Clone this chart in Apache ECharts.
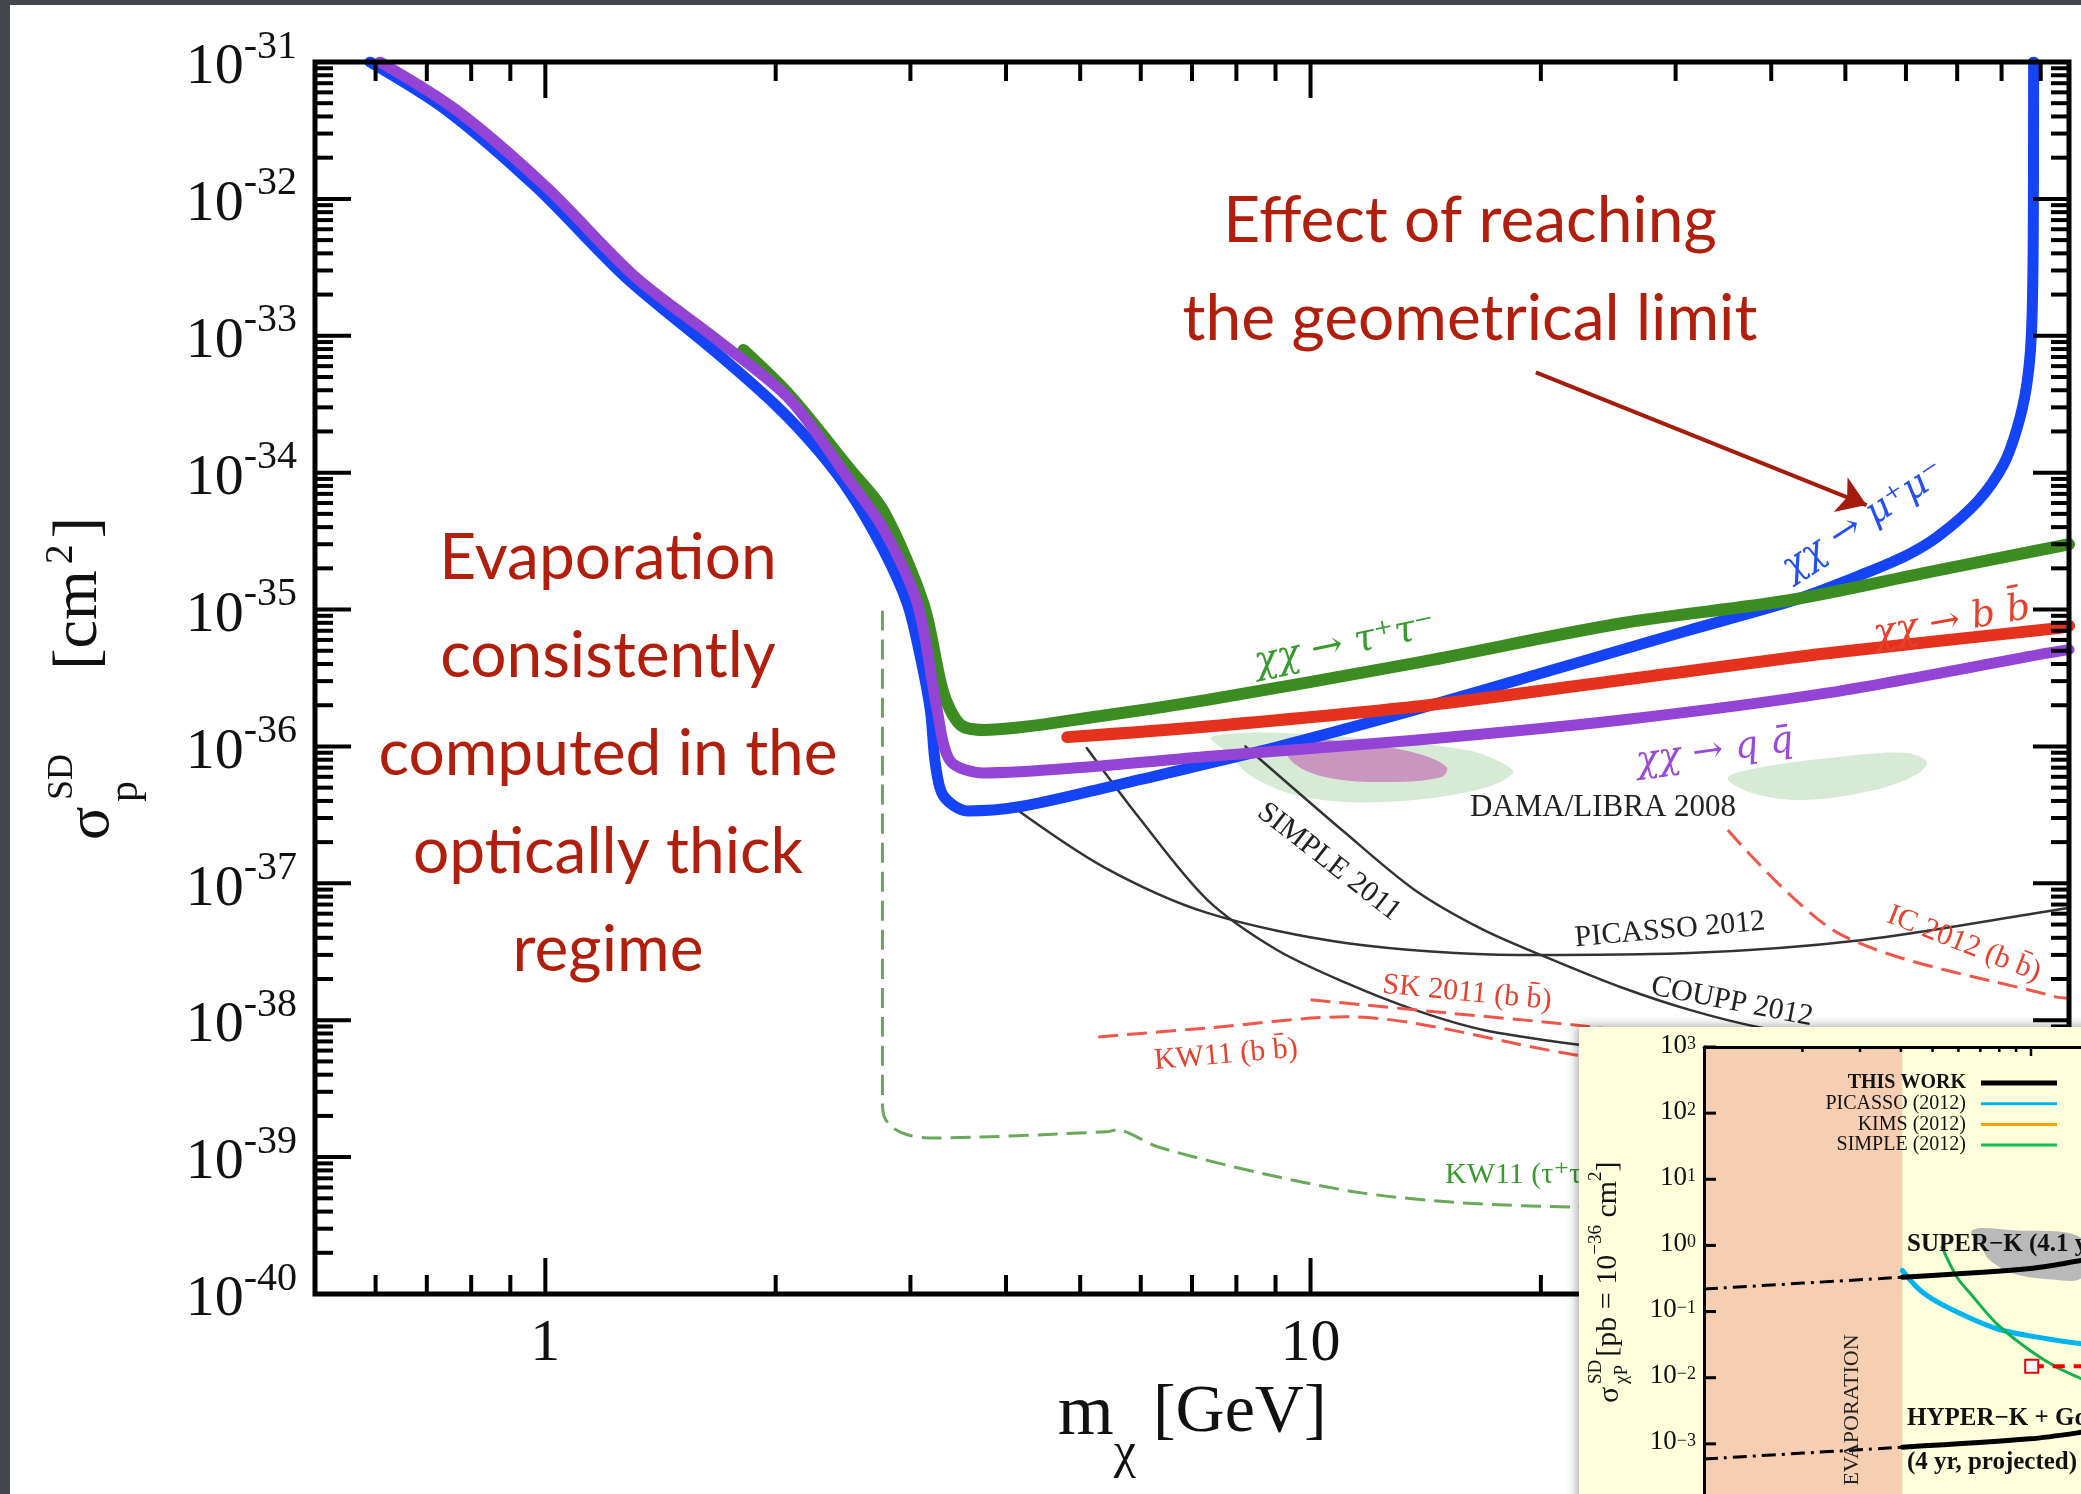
<!DOCTYPE html>
<html>
<head>
<meta charset="utf-8">
<script src="https://cdn.jsdelivr.net/npm/echarts@6/dist/echarts.min.js"></script>
<style>
  html, body { margin: 0; padding: 0; background: #45474f; }
  #main { width: 2081px; height: 1494px; }
</style>
</head>
<body>
<div id="main"></div>
<script>
// ---- main panel: m_chi [GeV] vs sigma_p^SD [cm^2] ----
var mumuCurve = [[0.59,1.0e-31],[0.742,4.46e-32],[0.973,1.22e-32],[1.272,2.69e-33],[1.679,7.4e-34],[2.011,3.02e-34],[2.268,1.47e-34],[2.504,7.11e-35],[2.766,2.72e-35],[2.973,1.10e-35],[3.091,4.51e-36],[3.186,1.82e-36],[3.234,7.45e-37],[3.313,4.35e-37],[3.561,3.38e-37],[4.14,3.61e-37],[5.32,4.9e-37],[5.96,5.69e-37],[9.03,9.9e-37],[13.68,1.85e-36],[20.7,3.62e-36],[31.3,7.1e-36],[42.8,1.17e-35],[52.8,1.82e-35],[60.3,2.51e-35],[66.2,3.45e-35],[74.5,6.2e-35],[80.5,1.15e-34],[83.8,2.1e-34],[86.2,4.2e-34],[87.5,1.0e-33],[88.0,5.0e-33],[88.1,1.0e-31]];
var tautauCurve = [[1.815,7.87e-34],[2.09,3.63e-34],[2.504,1.05e-34],[2.766,5.25e-35],[3.12,1.10e-35],[3.313,2.46e-36],[3.487,1.44e-36],[3.737,1.32e-36],[5.32,1.67e-36],[7.33,2.19e-36],[13.68,4.06e-36],[25.5,7.94e-36],[42.2,1.17e-35],[64.0,1.87e-35],[98,3.0e-35]];
var bbCurve = [[4.81,1.17e-36],[7.33,1.40e-36],[13.68,1.95e-36],[25.5,3.06e-36],[47.4,4.80e-36],[94.2,7.29e-36],[98,7.6e-36]];
var qqCurve = [[0.608,1.0e-31],[0.765,4.46e-32],[1.003,1.22e-32],[1.311,2.69e-33],[1.679,9.3e-34],[2.09,3.40e-34],[2.504,8.6e-35],[2.766,3.88e-35],[3.064,1.10e-35],[3.253,1.82e-36],[3.383,7.83e-37],[3.737,6.40e-37],[5.32,7.21e-37],[7.33,8.43e-37],[13.68,1.11e-36],[25.5,1.56e-36],[47.4,2.46e-36],[92.2,4.82e-36],[98,5.1e-36]];

var picasso2012 = [[4.10,3.56e-37],[5.36,1.32e-37],[7.33,6.08e-38],[11.11,3.67e-38],[18.65,3.00e-38],[31.3,3.10e-38],[52.7,3.86e-38],[94.2,6.39e-38],[98,6.6e-38]];
var simple2011 = [[5.10,9.75e-37],[5.96,3.05e-37],[7.33,7.57e-38],[9.03,3.27e-38],[11.11,1.88e-38],[13.68,1.19e-38],[16.83,8.49e-39],[22.5,6.6e-39],[30,5.5e-39]];
var coupp2012 = [[8.22,1.0e-36],[11.11,2.33e-37],[13.68,8.95e-38],[16.83,4.57e-38],[20.72,2.76e-38],[25.4,1.75e-38],[31.3,1.19e-38],[38.5,8.9e-39],[50,7.0e-39]];
var kw11bb = [[5.28,7.55e-39],[7.36,8.79e-39],[11.14,1.06e-38],[22.2,5.58e-39],[30,4.6e-39]];
var sk2011 = [[10.0,1.41e-38],[15.1,1.13e-38],[22.0,9.25e-39],[30,7.5e-39]];
var ic2012 = [[35.1,2.45e-37],[49.4,4.2e-38],[94.2,1.48e-38],[98,1.45e-38]];
var kw11tau = [[2.758,9.8e-36],[2.758,2.6e-39],[2.77,2.0e-39],[2.84,1.65e-39],[2.98,1.45e-39],[3.168,1.38e-39],[5.41,1.53e-39],[5.58,1.58e-39],[6.31,1.19e-39],[8.58,7.67e-40],[11.66,5.48e-40],[15.85,4.63e-40],[22.27,4.32e-40],[30,4.3e-40]];

var damaGreenA = [[7.42,1.17e-36],[9.08,1.26e-36],[12.35,1.11e-36],[16.0,9.4e-37],[17.8,7.58e-37],[18.4,6.4e-37],[16.5,4.8e-37],[12.5,3.93e-37],[9.79,4.28e-37],[8.40,5.98e-37],[7.79,8.97e-37]];
var damaPurple = [[9.22,1.11e-36],[11.42,1.06e-36],[13.72,8.97e-37],[15.06,7.08e-37],[14.84,5.98e-37],[12.72,5.5e-37],[10.59,5.88e-37],[9.50,7.58e-37]];
var damaGreenB = [[35.1,5.89e-37],[38.98,7.08e-37],[49.1,8.38e-37],[59.95,8.97e-37],[63.9,7.7e-37],[61.8,6.2e-37],[54.6,4.8e-37],[44.1,4.06e-37],[37.8,4.57e-37]];

var arrowFrom = [19.7, 5.4e-34];
var arrowTo = [53.3, 5.8e-35];

var xMajor = [1, 10];
var xMinor = [0.6, 0.7, 0.8, 0.9, 2, 3, 4, 5, 6, 7, 8, 9, 20, 30, 40, 50, 60, 70, 80, 90];
var yDecades = [-40, -39, -38, -37, -36, -35, -34, -33, -32, -31];
var mantissas = [2, 3, 4, 5, 6, 7, 8, 9];

// ---- inset panel ----
var evapRange = [1, 4.04];
var superKBand = [[6.60,1.69],[8.81,1.69],[14.3,1.28],[14.3,0.328],[11.67,0.306],[8.81,0.377],[7.50,0.593],[7.14,0.84]];
var thisWork = [[4.04,0.331],[9.93,0.449],[14.3,0.593],[16.35,0.656]];
var thisWorkLow = [[1,0.219],[4.04,0.331]];
var hyperK = [[4.04,8.9e-4],[9.93,1.19e-3],[14.3,1.5e-3],[16.35,1.7e-3]];
var hyperKLow = [[1,5.9e-4],[4.04,8.9e-4]];
var picassoInset = [[4.04,0.419],[4.59,0.208],[5.53,0.117],[7.86,0.055],[11.17,0.0389],[14.3,0.0326],[16.35,0.031]];
var simpleInset = [[5.34,0.943],[5.94,0.331],[6.67,0.165],[7.86,0.0653],[9.93,0.0258],[11.98,0.0144],[14.3,0.0096],[16.35,0.0072]];
var kimsInset = [[10.05,0.0149],[16.35,0.0149]];
var insetXMajor = [10];
var insetXMinor = [2, 3, 4, 5, 6, 7, 8, 9, 20, 30, 40, 50, 60, 70, 80, 90];
var insetYDecades = [-4, -3, -2, -1, 0, 1, 2, 3];
var legendNames = ['THIS WORK', 'PICASSO (2012)', 'KIMS (2012)', 'SIMPLE (2012)'];
var legendColors = ['#000000', '#00b4f0', '#ffa200', '#12c052'];

var serif = '"Liberation Serif", "DejaVu Serif", serif';
var greek = '"DejaVu Serif", "Liberation Serif", serif';
var hand = 'Lato, "Open Sans", sans-serif';
var refX = [0.5, 1], refY = [1e-40, 1e-4];

var yMinor = [];
yDecades.slice(0, -1).forEach(function (e) {
    mantissas.forEach(function (m) { yMinor.push(m * Math.pow(10, e)); });
});
var yMajor = yDecades.map(function (e) { return Math.pow(10, e); });
var insetYMajor = insetYDecades.map(function (e) { return Math.pow(10, e); });

function curve(data, color, width, dash, idx, z) {
    return {
        type: 'line', data: data, xAxisIndex: idx || 0, yAxisIndex: idx || 0, z: z || 2,
        symbol: 'none', showSymbol: false, smooth: 0.3, silent: true,
        lineStyle: { color: color, width: width, type: dash || 'solid', cap: dash ? 'butt' : 'round', join: 'round' }
    };
}

// tick marks drawn through the axis scale
function ticks(vals, dir, len, lw, sides, idx, z) {
    return {
        type: 'custom', xAxisIndex: idx, yAxisIndex: idx, z: z, silent: true, clip: false,
        data: vals.map(function (v) { return dir === 'x' ? [v, refY[idx]] : [refX[idx], v]; }),
        renderItem: function (params, api) {
            var cs = params.coordSys;
            var p = api.coord([api.value(0), api.value(1)]);
            var kids = sides.map(function (s) {
                var sh;
                if (s === 'top') sh = { x1: p[0], y1: cs.y, x2: p[0], y2: cs.y + len };
                if (s === 'bottom') sh = { x1: p[0], y1: cs.y + cs.height, x2: p[0], y2: cs.y + cs.height - len };
                if (s === 'left') sh = { x1: cs.x, y1: p[1], x2: cs.x + len, y2: p[1] };
                if (s === 'right') sh = { x1: cs.x + cs.width, y1: p[1], x2: cs.x + cs.width - len, y2: p[1] };
                return { type: 'line', shape: sh, style: { stroke: '#000', lineWidth: lw } };
            });
            return { type: 'group', children: kids };
        }
    };
}

// power-of-ten labels placed through the y scale
function decadeLabels(decades, idx, gap, rich, minus, z) {
    return {
        type: 'custom', xAxisIndex: idx, yAxisIndex: idx, z: z, silent: true, clip: false,
        data: decades.map(function (e) { return [refX[idx], Math.pow(10, e)]; }),
        renderItem: function (params, api) {
            var p = api.coord([api.value(0), api.value(1)]);
            var e = decades[params.dataIndex];
            var s = e < 0 ? minus + (-e) : String(e);
            return {
                type: 'text', x: p[0] - gap, y: p[1],
                style: { text: '{sp| }{b|10}{s|' + s + '}', rich: rich, align: 'right', verticalAlign: 'middle',
                         textAlign: 'right', textVerticalAlign: 'middle', fill: '#111' }
            };
        }
    };
}

function polySeries(polys, colors, idx, z) {
    return {
        type: 'custom', xAxisIndex: idx, yAxisIndex: idx, z: z, silent: true,
        data: polys.map(function (p) { return p[0]; }),
        renderItem: function (params, api) {
            var pts = polys[params.dataIndex].map(function (p) { return api.coord(p); });
            return { type: 'polygon', shape: { points: pts, smooth: 0.35 }, style: { fill: colors[params.dataIndex] } };
        }
    };
}

function txt(x, y, text, font, fill, align, vAlign, rot, z, extra) {
    var st = { text: text, font: font, fill: fill, align: align, verticalAlign: vAlign, textAlign: align, textVerticalAlign: vAlign };
    if (extra) for (var k in extra) st[k] = extra[k];
    return { type: 'text', x: x, y: y, rotation: rot || 0, z: z || 10, silent: true, style: st };
}

var deg = Math.PI / 180;
var blueL = '#2450f0', greenL = '#3a9a30', redL = '#e8402c', purpleL = '#9a4ad8', darkL = '#222';

var graphics = [
    { type: 'rect', z: 100, shape: { x: 0, y: 0, width: 2081, height: 5 }, style: { fill: '#45474f' } },
    { type: 'rect', z: 100, shape: { x: 0, y: 0, width: 10, height: 1494 }, style: { fill: '#45474f' } },
    txt(608, 509, 'Evaporation\nconsistently\ncomputed in the\noptically thick\nregime', '64px ' + hand, '#b21e0c', 'center', 'top', 0, 10, { lineHeight: 98 }),
    txt(1470, 172, 'Effect of reaching\nthe geometrical limit', '64px ' + hand, '#b21e0c', 'center', 'top', 0, 10, { lineHeight: 98 }),
    txt(1864, 521, 'χχ → μ⁺μ⁻', 'italic 37px ' + greek, blueL, 'center', 'middle', 33 * deg),
    txt(1345, 645, 'χχ → τ⁺τ⁻', 'italic 38px ' + greek, greenL, 'center', 'middle', 12 * deg),
    txt(1952, 622, 'χχ → b b̄', 'italic 37px ' + greek, redL, 'center', 'middle', 10 * deg),
    txt(1715, 752, 'χχ → q q̄', 'italic 37px ' + greek, purpleL, 'center', 'middle', 8 * deg),
    txt(1603, 808, 'DAMA/LIBRA 2008', '31px ' + serif, darkL, 'center', 'middle', 0),
    txt(1329, 862, 'SIMPLE 2011', '30px ' + serif, darkL, 'center', 'middle', -38 * deg),
    txt(1670, 930, 'PICASSO 2012', '30px ' + serif, darkL, 'center', 'middle', 5 * deg),
    txt(1732, 1002, 'COUPP 2012', '30px ' + serif, darkL, 'center', 'middle', -11 * deg),
    txt(1964, 944, 'IC 2012 (b b̄)', '30px ' + serif, redL, 'center', 'middle', -21.6 * deg),
    txt(1467, 993, 'SK 2011 (b b̄)', '30px ' + serif, redL, 'center', 'middle', -5.5 * deg),
    txt(1226, 1055, 'KW11 (b b̄)', '30px ' + serif, redL, 'center', 'middle', 5 * deg),
    txt(1445, 1175, 'KW11 (τ⁺τ⁻)', '30px ' + serif, greenL, 'left', 'middle', 0),
    // y axis title of the main panel
    {
        type: 'group', x: 110, y: 840, rotation: Math.PI / 2, z: 10, silent: true,
        children: [
            txt(0, -18, 'σ', '62px ' + serif, '#111', 'left', 'middle'),
            txt(40, -47, 'SD', '36px ' + serif, '#111', 'left', 'middle'),
            txt(38, 16, 'p', '42px ' + serif, '#111', 'left', 'middle'),
            txt(170, -34, '{sp| }{t|[cm}{s|2}{t|]}', '64px ' + serif, '#111', 'left', 'middle', 0, 10, {
                rich: {
                    sp: { fontSize: 1, lineHeight: 70 },
                    t: { fontSize: 64, fontFamily: serif, lineHeight: 40, verticalAlign: 'bottom', fill: '#111' },
                    s: { fontSize: 40, fontFamily: serif, lineHeight: 30, verticalAlign: 'top', fill: '#111', padding: [0, 6, 0, 6] }
                }
            })
        ]
    },
    // inset card
    { type: 'rect', z: 50, silent: true, shape: { x: 1579, y: 1027, width: 520, height: 480 },
      style: { fill: '#ffffdc', shadowBlur: 10, shadowColor: 'rgba(0,0,0,0.35)', shadowOffsetX: -2, shadowOffsetY: -1 } },
    txt(1907, 1245, 'SUPER−K (4.1 yr)', 'bold 25px ' + serif, '#111', 'left', 'middle', 0, 70),
    txt(1907, 1419, 'HYPER−K + Gd', 'bold 25px ' + serif, '#111', 'left', 'middle', 0, 70),
    txt(1907, 1463, '(4 yr, projected)', 'bold 25px ' + serif, '#111', 'left', 'middle', 0, 70),
    txt(1852, 1410, 'EVAPORATION', '22px ' + serif, '#222', 'center', 'middle', Math.PI / 2, 70),
    {
        type: 'group', x: 1617, y: 1403, rotation: Math.PI / 2, z: 70, silent: true,
        children: [
            txt(0, -7, 'σ', '30px ' + serif, '#111', 'left', 'middle', 0, 70),
            txt(19, -21, 'SD', '19px ' + serif, '#111', 'left', 'middle', 0, 70),
            txt(19, 5, 'χP', '19px ' + serif, '#111', 'left', 'middle', 0, 70),
            txt(46, -12, '{sp| }{t|[pb = 10}{s|−36}{t| cm}{s|2}{t|]}', '30px ' + serif, '#111', 'left', 'middle', 0, 70, {
                rich: {
                    sp: { fontSize: 1, lineHeight: 36 },
                    t: { fontSize: 30, fontFamily: serif, lineHeight: 30, verticalAlign: 'bottom', fill: '#111' },
                    s: { fontSize: 19, fontFamily: serif, lineHeight: 14, verticalAlign: 'top', fill: '#111' }
                }
            })
        ]
    }
];

legendNames.forEach(function (name, i) {
    var y = 1083 + i * 20.7;
    graphics.push(txt(1966, y, name, (i === 0 ? 'bold ' : '') + '20px ' + serif, '#111', 'right', 'middle', 0, 70));
    graphics.push({ type: 'line', z: 70, silent: true, shape: { x1: 1981, y1: y, x2: 2057, y2: y },
        style: { stroke: legendColors[i], lineWidth: i === 0 ? 5 : 3 } });
});

var mainRich = {
    sp: { fontSize: 1, lineHeight: 70 },
    b: { fontSize: 58, fontFamily: serif, fill: '#111', lineHeight: 40, verticalAlign: 'bottom' },
    s: { fontSize: 40, fontFamily: serif, fill: '#111', lineHeight: 30, verticalAlign: 'top' }
};
var insetRich = {
    sp: { fontSize: 1, lineHeight: 24 },
    b: { fontSize: 27, fontFamily: serif, fill: '#111', lineHeight: 24, verticalAlign: 'bottom' },
    s: { fontSize: 18, fontFamily: serif, fill: '#111', lineHeight: 8, verticalAlign: 'top' }
};

var mainSeries = [
    polySeries([damaGreenA, damaGreenB, damaPurple], ['#d6ead6', '#d6ead6', '#c996c0'], 0, 2),
    curve(picasso2012, '#333', 2.5),
    curve(simple2011, '#333', 2.5),
    curve(coupp2012, '#333', 2.5),
    curve(kw11bb, '#f2564a', 3, [20, 9]),
    curve(sk2011, '#f2564a', 3, [20, 9]),
    curve(ic2012, '#f2564a', 3, [20, 9]),
    curve(kw11tau, '#6aa85a', 3, [20, 9]),
    curve(mumuCurve, '#1444f5', 11),
    curve(tautauCurve, '#3d8c22', 12),
    curve(bbCurve, '#e5321c', 12),
    curve(qqCurve, '#9444d4', 11),
    {
        type: 'line', data: [], xAxisIndex: 0, yAxisIndex: 0, z: 4, silent: true,
        markLine: {
            silent: true, symbol: ['none', 'arrow'], symbolSize: 28, label: { show: false },
            lineStyle: { color: '#a51c0c', width: 4, type: 'solid' },
            data: [[{ coord: arrowFrom }, { coord: arrowTo }]]
        }
    },
    ticks(xMajor, 'x', 36, 4, ['top', 'bottom'], 0, 6),
    ticks(xMinor, 'x', 19, 4, ['top', 'bottom'], 0, 6),
    ticks(yMajor, 'y', 36, 4, ['left', 'right'], 0, 6),
    ticks(yMinor, 'y', 18, 4, ['left', 'right'], 0, 6),
    decadeLabels(yDecades, 0, 18, mainRich, '-', 6)
];

var insetSeries = [
    {
        type: 'custom', xAxisIndex: 1, yAxisIndex: 1, z: 61, silent: true,
        data: [[evapRange[0], 1]],
        renderItem: function (params, api) {
            var a = api.coord([evapRange[0], 1e3]), b = api.coord([evapRange[1], 1e-4]);
            return { type: 'rect', shape: { x: a[0], y: a[1], width: b[0] - a[0], height: b[1] - a[1] }, style: { fill: '#f6ceb2' } };
        }
    },
    polySeries([superKBand], ['#b9b9b9'], 1, 62),
    curve(picassoInset, '#00b4f0', 5, null, 1, 63),
    curve(simpleInset, '#12b04e', 3, null, 1, 63),
    curve(thisWork, '#000', 5, null, 1, 64),
    curve(thisWorkLow, '#000', 3, [14, 6, 3, 6], 1, 64),
    curve(hyperK, '#000', 5, null, 1, 64),
    curve(hyperKLow, '#000', 3, [14, 6, 3, 6], 1, 64),
    {
        type: 'line', xAxisIndex: 1, yAxisIndex: 1, z: 64, silent: true,
        data: [{ value: kimsInset[0], symbol: 'emptyRect', symbolSize: 13 }, { value: kimsInset[1], symbol: 'none' }],
        showSymbol: true, itemStyle: { color: '#ee0000', borderWidth: 3 },
        lineStyle: { color: '#ee0000', width: 4, type: [12, 9] }
    },
    ticks(insetXMajor, 'x', 9, 2.5, ['top'], 1, 66),
    ticks(insetXMinor, 'x', 5, 2.5, ['top'], 1, 66),
    ticks(insetYMajor, 'y', 12, 3, ['left'], 1, 66),
    decadeLabels(insetYDecades, 1, 8, insetRich, '−', 66)
];

var option = {
    animation: false,
    backgroundColor: '#ffffff',
    graphic: { elements: graphics },
    grid: [
        { left: 315, top: 62, width: 1754, height: 1232, show: true, borderColor: '#000', borderWidth: 5,
          backgroundColor: 'transparent', containLabel: false, outerBoundsMode: 'none', z: 5 },
        { left: 1704, top: 1047, width: 654, height: 463, show: false, containLabel: false, outerBoundsMode: 'none', z: 60 }
    ],
    xAxis: [
        {
            type: 'log', logBase: 10, min: 0.5, max: 98, gridIndex: 0,
            axisLine: { show: false }, axisTick: { show: false }, splitLine: { show: false },
            axisLabel: {
                margin: 20, fontSize: 60, fontFamily: serif, color: '#111',
                formatter: function (v) {
                    var hit = xMajor.filter(function (m) { return Math.abs(v / m - 1) < 1e-6; });
                    return hit.length ? String(hit[0]) : '';
                }
            },
            name: '{sp| }{m|m}{c|χ}{g| [GeV]}', nameLocation: 'middle', nameGap: 76,
            nameTextStyle: {
                rich: {
                    sp: { fontSize: 1, lineHeight: 100 },
                    m: { fontSize: 72, fontFamily: serif, color: '#111', lineHeight: 60, verticalAlign: 'top' },
                    c: { fontSize: 50, fontFamily: serif, color: '#111', lineHeight: 80, verticalAlign: 'bottom' },
                    g: { fontSize: 68, fontFamily: serif, color: '#111', lineHeight: 60, verticalAlign: 'top' }
                }
            }
        },
        {
            type: 'log', logBase: 10, min: 1, max: 100, gridIndex: 1, position: 'top', z: 66,
            axisLine: { show: true, lineStyle: { color: '#000', width: 3 } },
            axisTick: { show: false }, splitLine: { show: false }, axisLabel: { show: false }
        }
    ],
    yAxis: [
        {
            type: 'log', logBase: 10, min: 1e-40, max: 1e-31, gridIndex: 0,
            axisLine: { show: false }, axisTick: { show: false }, splitLine: { show: false },
            axisLabel: { show: false }
        },
        {
            type: 'log', logBase: 10, min: 1e-4, max: 1e3, gridIndex: 1, z: 66,
            axisLine: { show: true, lineStyle: { color: '#000', width: 3 } },
            axisTick: { show: false }, splitLine: { show: false }, axisLabel: { show: false }
        }
    ],
    series: mainSeries.concat(insetSeries)
};

var chart = echarts.init(document.getElementById('main'));
chart.setOption(option);
</script>
</body>
</html>
